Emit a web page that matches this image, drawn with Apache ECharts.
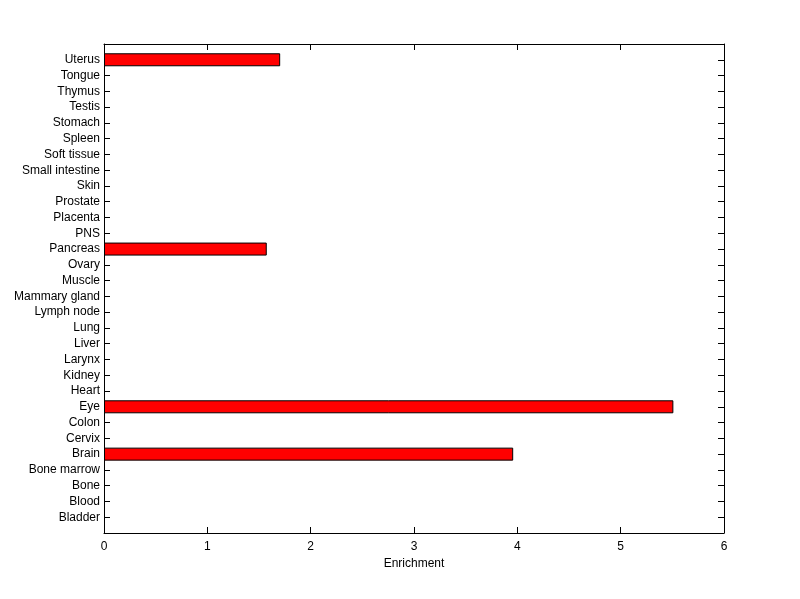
<!DOCTYPE html>
<html>
<head>
<meta charset="utf-8">
<script src="https://cdn.jsdelivr.net/npm/echarts@6/dist/echarts.min.js"></script>
<style>html,body{margin:0;padding:0;background:#fff}#c{width:800px;height:599px}</style>
</head>
<body>
<div id="c"></div>
<script>
var categories = ['Bladder','Blood','Bone','Bone marrow','Brain','Cervix','Colon','Eye','Heart','Kidney','Larynx','Liver','Lung','Lymph node','Mammary gland','Muscle','Ovary','Pancreas','PNS','Placenta','Prostate','Skin','Small intestine','Soft tissue','Spleen','Stomach','Testis','Thymus','Tongue','Uterus'];
var values = [0,0,0,0,3.96,0,0,5.51,0,0,0,0,0,0,0,0,0,1.575,0,0,0,0,0,0,0,0,0,0,0,1.705];
var xTicks = [0,1,2,3,4,5,6];

var cats = [''].concat(categories).concat(['']);
var vals = ['-'].concat(values.map(function(v){return v>0?v:'-';})).concat(['-']);
var font = 'Arial, "Liberation Sans", sans-serif';
var chart = echarts.init(document.getElementById('c'));
var lineSt = {show: true, onZero: false, lineStyle: {color: '#000', width: 1}};
chart.setOption({
  animation: false,
  backgroundColor: '#fff',
  grid: {left: 104, top: 44, width: 620, height: 489},
  xAxis: [{
    type: 'value', min: xTicks[0], max: xTicks[xTicks.length-1], interval: 1,
    position: 'bottom',
    axisLine: lineSt,
    axisTick: {show: true, inside: true, length: 6, lineStyle: {color: '#000'}},
    axisLabel: {color: '#000', fontSize: 12, fontFamily: font, margin: 8},
    splitLine: {show: false},
    name: 'Enrichment', nameLocation: 'middle', nameGap: 25,
    nameTextStyle: {color: '#000', fontSize: 12, fontFamily: font}
  }, {
    type: 'value', min: xTicks[0], max: xTicks[xTicks.length-1], interval: 1,
    position: 'top',
    axisLine: lineSt,
    axisTick: {show: true, inside: true, length: 6, lineStyle: {color: '#000'}},
    axisLabel: {show: false},
    splitLine: {show: false}
  }],
  yAxis: [{
    type: 'category', data: cats, boundaryGap: false, position: 'left',
    axisLine: lineSt,
    axisTick: {show: true, inside: true, length: 6, interval: 0, lineStyle: {color: '#000'}},
    axisLabel: {color: '#000', fontSize: 12, fontFamily: font, margin: 4, interval: 0, padding: [2, 0, 0, 0]},
    splitLine: {show: false}
  }, {
    type: 'category', data: cats, boundaryGap: false, position: 'right',
    axisLine: lineSt,
    axisTick: {show: true, inside: true, length: 6, interval: 0, lineStyle: {color: '#000'}},
    axisLabel: {show: false},
    splitLine: {show: false}
  }],
  series: [{
    type: 'bar', xAxisIndex: 0, yAxisIndex: 0, data: vals, barWidth: 13,
    itemStyle: {color: '#ff0000', borderColor: '#000', borderWidth: 1}
  }]
});
</script>
</body>
</html>
